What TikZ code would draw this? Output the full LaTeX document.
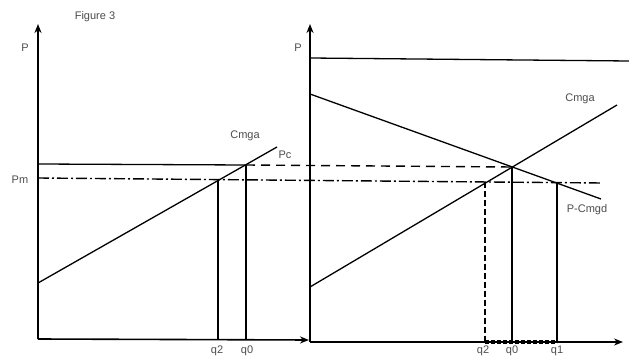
\documentclass[tikz,border=0pt]{standalone}
\usepackage{fontspec}
\setmainfont{Liberation Sans}
\usepackage{tikz}
\usetikzlibrary{arrows.meta,positioning}

\begin{document}
\begin{tikzpicture}[
    x=1pt, y=-1pt,
    font=\fontsize{11}{13}\selectfont,
    axis/.style={-{Stealth[length=9pt, width=7pt]}, line width=1.6pt},
    curve/.style={line width=1.3pt},
    qLine/.style={line width=1.3pt},
    pcDash/.style={line width=1.4pt, dash pattern=on 9pt off 6pt},
    pmDash/.style={line width=1.4pt, dash pattern=on 11pt off 3pt on 2pt off 3pt},
    qDash/.style={line width=1.3pt, dash pattern=on 6pt off 3pt},
    qBand/.style={line width=3.5pt, dash pattern=on 4pt off 2pt},
    lbl/.style={inner sep=1pt, text=black!70}
]
\useasboundingbox (0,0) rectangle (629,358);

% Axes
\coordinate (o1) at (38,339);
\coordinate (y1) at (38,24);
\coordinate (x1) at (309,340);
\coordinate (o2) at (310,342);
\coordinate (y2) at (310,24);
\coordinate (x2) at (623,342);
\draw[axis] (o1) -- (y1);
\draw[axis] (o1) -- (x1);
\draw[axis] (o2) -- (y2);
\draw[axis] (o2) -- (x2);

% Left panel
\coordinate (sL0) at (38,283);
\coordinate (sL1) at (277,147);
\coordinate (pcL) at (38,164);
\coordinate (e1) at (246,165);
\coordinate (pmL) at (38,178);
\coordinate (pmR) at (602,183);
\coordinate (q2L) at (218,180);
\coordinate (q2Lb) at (218,339);
\coordinate (e1b) at (246,339);
\draw[curve] (sL0) -- (sL1);
\draw[curve] (pcL) -- (e1);
\draw[pmDash] (pmL) -- (pmR);
\draw[qLine] (q2L) -- (q2Lb);
\draw[qLine] (e1) -- (e1b);

% Right panel
\coordinate (topL) at (310,58);
\coordinate (topR) at (629,61);
\coordinate (dR0) at (310,94);
\coordinate (dR1) at (601,199);
\coordinate (sR0) at (310,287);
\coordinate (sR1) at (617,105);
\coordinate (e2) at (512,167);
\coordinate (e2b) at (512,342);
\coordinate (q2R) at (485,182.5);
\coordinate (q2Rb) at (485,342);
\coordinate (q1R) at (557,183);
\coordinate (q1Rb) at (557,342);
\draw[curve] (topL) -- (topR);
\draw[curve] (dR0) -- (dR1);
\draw[curve] (sR0) -- (sR1);
\draw[pcDash] (e1) -- (e2);
\draw[qLine] (e2) -- (e2b);
\draw[qDash] (q2R) -- (q2Rb);
\draw[qLine] (q1R) -- (q1Rb);
\draw[qBand] (q2Rb) -- (q1Rb);

% Labels
\node[lbl] (title) at (95,17) {Figure 3};
\node[lbl] (pAxL) at (25,48) {P};
\node[lbl] (pAxR) at (298,48) {P};
\node[lbl] (pmLbl) at (20,180) {Pm};
\node[lbl] (pcLbl) at (285,155) {Pc};
\node[lbl] (cmgaL) at (245,136) {Cmga};
\node[lbl] (cmgaR) at (580,99) {Cmga};
\node[lbl] (dLbl) at (587,210) {P-Cmgd};
\node[lbl] (q2LLbl) at (217,351) {q2};
\node[lbl] (q0LLbl) at (247,351) {q0};
\node[lbl] (q2RLbl) at (483,351) {q2};
\node[lbl] (q0RLbl) at (512,351) {q0};
\node[lbl] (q1RLbl) at (557,351) {q1};
\end{tikzpicture}
\end{document}
